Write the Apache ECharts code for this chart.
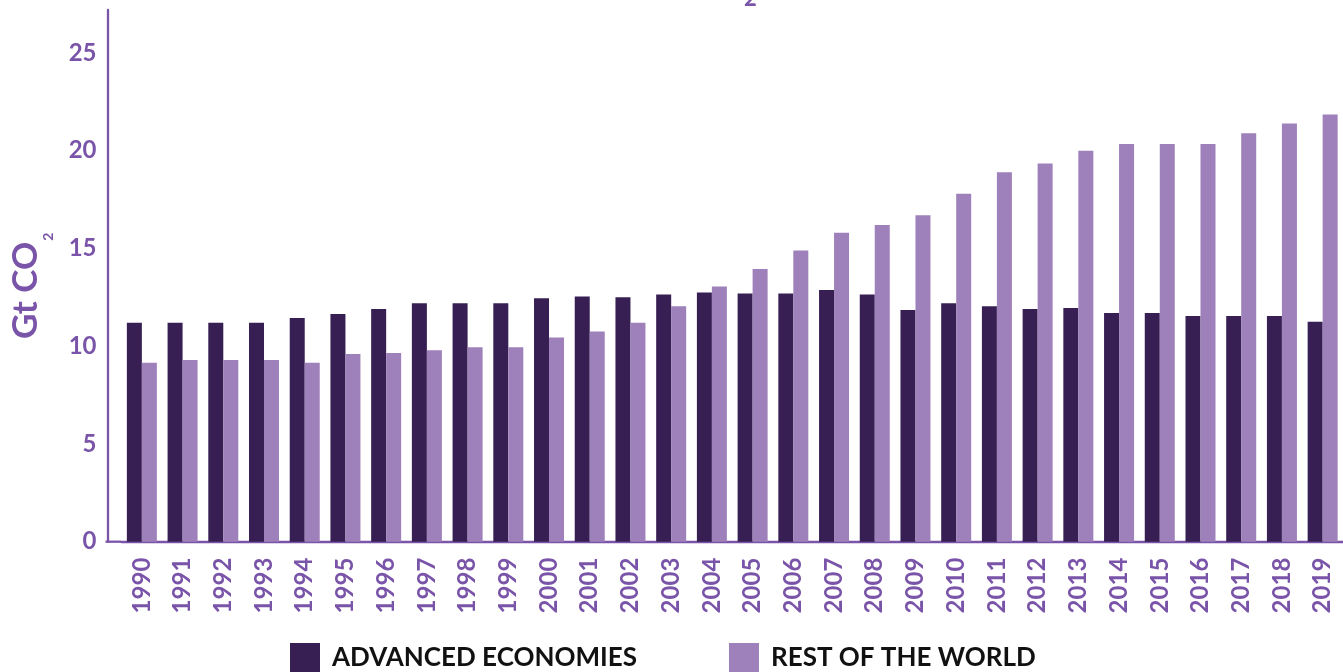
<!DOCTYPE html>
<html>
<head>
<meta charset="utf-8">
<script src="https://cdn.jsdelivr.net/npm/echarts@6/dist/echarts.min.js"></script>
<style>
  html, body { margin: 0; padding: 0; background: #ffffff; }
  #chart { width: 1343px; height: 672px; }
</style>
</head>
<body>
<div id="chart"></div>
<script>
// Annual CO2 emissions, Gt CO2
const years = ['1990','1991','1992','1993','1994','1995','1996','1997','1998','1999',
               '2000','2001','2002','2003','2004','2005','2006','2007','2008','2009',
               '2010','2011','2012','2013','2014','2015','2016','2017','2018','2019'];

const advancedEconomies = [11.2, 11.2, 11.2, 11.2, 11.45, 11.65, 11.9, 12.2, 12.2, 12.2,
                           12.45, 12.55, 12.5, 12.65, 12.75, 12.7, 12.7, 12.87, 12.65, 11.85,
                           12.2, 12.05, 11.9, 11.95, 11.7, 11.7, 11.55, 11.55, 11.55, 11.25];

const restOfWorld = [9.15, 9.3, 9.3, 9.3, 9.15, 9.6, 9.65, 9.8, 9.95, 9.95,
                     10.45, 10.75, 11.2, 12.05, 13.05, 13.95, 14.9, 15.8, 16.2, 16.7,
                     17.8, 18.9, 19.35, 20.0, 20.35, 20.35, 20.35, 20.9, 21.4, 21.85];

const seriesNames = ['ADVANCED ECONOMIES', 'REST OF THE WORLD'];
const yTicks = { min: 0, max: 27.2, interval: 5 };

const PURPLE = '#7a54a8';
const DARK = '#371f53';
const LIGHT = '#9e80ba';
const FONT = 'Lato, "Noto Sans", sans-serif';

const chart = echarts.init(document.getElementById('chart'), null, { renderer: 'canvas' });

chart.setOption({
  animation: false,
  backgroundColor: '#ffffff',
  textStyle: { fontFamily: FONT },
  grid: { left: 120.6, right: -2.4, top: 10, bottom: 130.3, containLabel: false },
  xAxis: {
    type: 'category',
    data: years,
    boundaryGap: true,
    axisLine: { show: true, lineStyle: { color: PURPLE, width: 2.3 } },
    axisTick: { show: false },
    axisLabel: {
      rotate: 90,
      interval: 0,
      margin: 16,
      color: PURPLE,
      fontFamily: FONT,
      fontWeight: 'bold',
      fontSize: 24
    },
    splitLine: { show: false }
  },
  yAxis: {
    type: 'value',
    min: yTicks.min,
    max: yTicks.max,
    interval: yTicks.interval,
    offset: 14,
    axisLine: { show: true, lineStyle: { color: PURPLE, width: 2.3 } },
    axisTick: { show: false },
    splitLine: { show: false },
    axisLabel: {
      color: PURPLE,
      fontFamily: FONT,
      fontWeight: 'bold',
      fontSize: 24,
      margin: 11,
      showMaxLabel: false,
      formatter: function (v) { return v % 5 === 0 ? String(v) : ''; }
    },
    name: '{a|Gt CO}{s|2}',
    nameLocation: 'middle',
    nameRotate: 90,
    nameGap: 52,
    nameTextStyle: {
      rich: {
        a: { fontFamily: FONT, fontWeight: 'bold', fontSize: 35, color: PURPLE, lineHeight: 60, verticalAlign: 'middle' },
        s: { fontFamily: FONT, fontWeight: 'bold', fontSize: 14, color: PURPLE, lineHeight: 14, verticalAlign: 'bottom', padding: [0, 20, 0, 1] }
      }
    }
  },
  legend: {
    data: seriesNames,
    left: 290,
    top: 643,
    padding: 0,
    itemWidth: 30,
    itemHeight: 30,
    itemGap: 92,
    icon: 'rect',
    selectedMode: false,
    textStyle: {
      color: '#111111',
      fontFamily: FONT,
      fontWeight: 'bold',
      fontSize: 26,
      padding: [0, 0, 0, 7]
    }
  },
  series: [
    {
      name: seriesNames[0],
      type: 'bar',
      data: advancedEconomies,
      barWidth: 15,
      barGap: '0%',
      itemStyle: { color: DARK }
    },
    {
      name: seriesNames[1],
      type: 'bar',
      data: restOfWorld,
      barWidth: 15,
      barGap: '0%',
      itemStyle: { color: LIGHT }
    }
  ],
  graphic: [
    // baseline segment between the y-axis line and the first category band
    {
      type: 'line',
      shape: { x1: 105.5, y1: 541.7, x2: 121, y2: 541.7 },
      style: { stroke: PURPLE, lineWidth: 2.3 },
      silent: true
    },
    // subscript of the heading above the plot
    {
      type: 'text',
      left: 744,
      top: -12,
      style: { text: '2', fill: PURPLE, font: 'bold 22px ' + FONT },
      silent: true
    }
  ]
});
</script>
</body>
</html>
